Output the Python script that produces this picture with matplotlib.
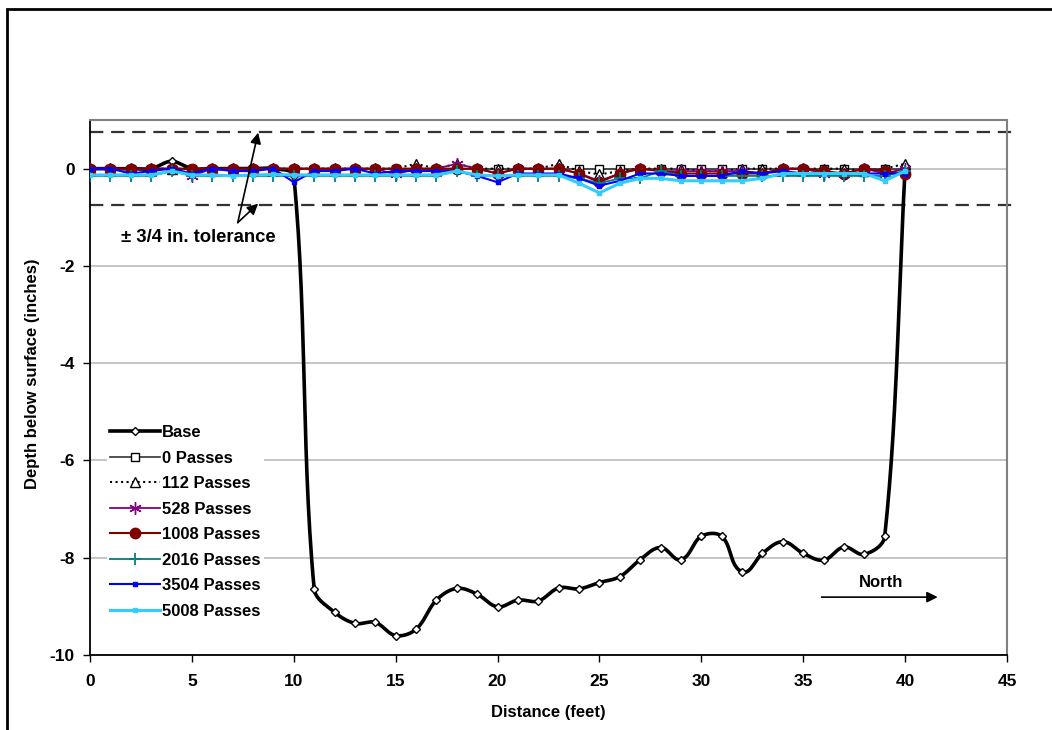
import numpy as np
import matplotlib
matplotlib.use('Agg')
from matplotlib import pyplot as plt
from matplotlib.patches import Rectangle

plt.rcParams['font.family'] = ['Liberation Sans', 'DejaVu Sans']
plt.rcParams['font.weight'] = 'bold'
plt.rcParams['axes.unicode_minus'] = False

distance = list(range(41))

base = [0, 0, 0, 0, 0.15, 0, 0, 0, 0, 0, -0.15,
        -8.64, -9.12, -9.35, -9.33, -9.60, -9.47, -8.87, -8.63, -8.75, -9.01,
        -8.87, -8.89, -8.62, -8.64, -8.51, -8.39, -8.04, -7.79, -8.04, -7.56,
        -7.56, -8.29, -7.91, -7.67, -7.91, -8.05, -7.78, -7.93, -7.56, 0.0]
p0 = [0, 0, 0, 0, 0, 0, 0, 0, 0, 0, 0, 0, 0, 0, 0, 0, 0, 0, 0, 0, 0,
      0, 0, 0, 0, 0, 0, 0, 0, 0, 0, 0, 0, 0, 0, 0, 0, 0, 0, 0, 0]
p112 = [0, 0, 0, 0, 0, 0, 0, 0, 0, 0, 0, 0, 0, 0, 0, 0, 0.1, 0, 0.1, 0, 0,
        0, 0, 0.1, -0.05, -0.12, -0.05, 0, 0, 0, -0.05, -0.05, 0, 0, 0, 0,
        0, 0, -0.05, 0, 0.1]
p528 = [0, 0, 0, 0, 0, -0.15, 0, 0, 0, 0, 0, 0, 0, 0, 0, -0.12, 0, 0, 0.1, 0,
        -0.1, 0, 0, 0, -0.1, -0.25, -0.1, 0, -0.05, -0.05, -0.05, -0.05, -0.05,
        -0.1, 0, 0, -0.1, -0.1, 0, -0.1, 0]
p1008 = [0, 0, 0, 0, 0, 0, 0, 0, 0, 0, 0, 0, 0, 0, 0, 0, 0, 0, 0, 0, -0.1,
         0, 0, 0, -0.1, -0.28, -0.1, 0, -0.05, -0.1, -0.1, -0.1, -0.1, -0.1,
         0, 0, -0.05, -0.1, 0, -0.05, -0.1]
p2016 = [-0.15, -0.15, -0.15, -0.15, -0.05, -0.15, -0.15, -0.15, -0.15, -0.15,
         -0.15, -0.15, -0.15, -0.15, -0.15, -0.15, -0.15, -0.15, -0.05, -0.15,
         -0.15, -0.15, -0.15, -0.15, -0.2, -0.3, -0.2, -0.2, -0.05, -0.15,
         -0.15, -0.15, -0.15, -0.15, -0.15, -0.15, -0.15, -0.15, -0.15, -0.15,
         -0.05]
p3504 = [0, 0, -0.1, -0.05, 0, -0.1, 0, -0.05, -0.05, 0, -0.28, -0.05, -0.05,
         0, -0.1, -0.05, -0.05, -0.05, -0.05, -0.15, -0.28, -0.1, -0.1, -0.1,
         -0.2, -0.35, -0.25, -0.1, -0.1, -0.15, -0.15, -0.15, -0.05, -0.1,
         -0.05, -0.1, -0.1, -0.1, -0.1, -0.1, -0.1]
p5008 = [-0.13, -0.13, -0.13, -0.13, -0.05, -0.13, -0.13, -0.15, -0.13, -0.12,
         -0.13, -0.13, -0.13, -0.13, -0.13, -0.13, -0.13, -0.13, -0.05, -0.13,
         -0.15, -0.13, -0.13, -0.13, -0.3, -0.5, -0.3, -0.2, -0.2, -0.25,
         -0.25, -0.25, -0.25, -0.2, -0.1, -0.1, -0.1, -0.1, -0.1, -0.25, -0.05]

labels = ['Base', '0 Passes', '112 Passes', '528 Passes', '1008 Passes',
          '2016 Passes', '3504 Passes', '5008 Passes']


def smooth(x, y, yscale=2.39, n=30):
    # smoothed line: bezier segments, control arms scaled by chord length
    P = np.column_stack([np.asarray(x, float), np.asarray(y, float) * yscale])
    m = len(P)
    tan = np.zeros_like(P)
    for i in range(m):
        d = P[min(i + 1, m - 1)] - P[max(i - 1, 0)]
        tan[i] = d / np.hypot(*d)
    t = np.linspace(0, 1, n)[:, None]
    out = []
    for i in range(m - 1):
        a, b = P[i], P[i + 1]
        L = np.hypot(*(b - a)) / 3
        c1 = a + tan[i] * L
        c2 = b - tan[i + 1] * L
        out.append((1 - t) ** 3 * a + 3 * (1 - t) ** 2 * t * c1 + 3 * (1 - t) * t ** 2 * c2 + t ** 3 * b)
    out = np.vstack(out)
    return out[:, 0], out[:, 1] / yscale


fs = 12

fig = plt.figure(figsize=(10.52, 7.30), dpi=100)
ax = fig.add_axes([90 / 1052, 1 - 655 / 730, 917 / 1052, 535 / 730])

fig.patches.append(Rectangle((7 / 1052, -0.1), 1.2, 1.1 - 9 / 730, transform=fig.transFigure,
                             fill=False, lw=2, edgecolor='black'))

ax.set_xlim(0, 45)
ax.set_ylim(-10, 1)
ax.set_yticks([-10, -8, -6, -4, -2, 0])
ax.set_xticks(range(0, 46, 5))
ax.grid(axis='y', color='#c0c0c0', lw=1.3)
ax.set_axisbelow(True)

# base: smoothed curve plus markers
sx, sy = smooth(distance, base)
ax.plot(sx, sy, color='black', lw=2.6, zorder=3)
ax.plot(distance, base, ls='none', marker='D', ms=4.5, mfc='white', mec='black', mew=1, zorder=3)
h_base, = ax.plot([], [], color='black', lw=2.6, marker='D', ms=4.5, mfc='white', mec='black', mew=1)

h0, = ax.plot(distance, p0, color='#333333', lw=1.2, marker='s', ms=6, mfc='white', mec='black', mew=1, zorder=3)
h112, = ax.plot(distance, p112, color='black', lw=1.5, ls=':', marker='^', ms=6.5, mfc='white', mec='black', mew=1, zorder=3)
h528, = ax.plot(distance, p528, color='#800080', lw=1.3, marker=(6, 2, 0), ms=9, mec='#800080', mew=1, zorder=3)
h1008, = ax.plot(distance, p1008, color='#800000', lw=1.5, marker='o', ms=7.5, mfc='#800000', mec='#800000', zorder=3)
h2016, = ax.plot(distance, p2016, color='#008080', lw=1.3, marker='+', ms=9, mec='#008080', mew=1.3, zorder=3)
h3504, = ax.plot(distance, p3504, color='#0000ff', lw=1.5, marker='s', ms=3, mfc='#0000ff', mec='#0000ff', zorder=3)
h5008, = ax.plot(distance, p5008, color='#33ccff', lw=2.2, marker='s', ms=3.5, mfc='#33ccff', mec='#33ccff', zorder=3)

# tolerance lines
ax.plot([0, 45.3], [0.75, 0.75], color='#333333', lw=1.6, ls=(0, (6, 3.5)), clip_on=False, zorder=2)
ax.plot([0, 45.3], [-0.75, -0.75], color='#333333', lw=1.6, ls=(0, (6, 3.5)), clip_on=False, zorder=2)

arrow = dict(arrowstyle='-|>', color='black', lw=1.2, mutation_scale=16, shrinkA=0, shrinkB=0)
ax.annotate('', xy=(8.25, 0.74), xytext=(7.25, -1.11), arrowprops=arrow, zorder=4)
ax.annotate('', xy=(8.25, -0.72), xytext=(7.25, -1.11), arrowprops=arrow, zorder=4)
ax.text(5.3, -1.42, '± 3/4 in. tolerance', ha='center', va='center', fontsize=13.3, fontweight='bold')

ax.annotate('', xy=(41.6, -8.81), xytext=(35.9, -8.81), arrowprops=arrow)
ax.text(38.8, -8.5, 'North', ha='center', va='center', fontsize=fs, fontweight='bold')

for s in ['top', 'right']:
    ax.spines[s].set_color('#808080')
    ax.spines[s].set_linewidth(1.5)
for s in ['left', 'bottom']:
    ax.spines[s].set_color('black')
    ax.spines[s].set_linewidth(1.3)

ax.tick_params(direction='out', length=5, width=1, labelsize=fs + 0.5, pad=6)
ax.tick_params(axis='x', pad=9)
for lab in ax.get_xticklabels() + ax.get_yticklabels():
    lab.set_fontweight('bold')

ax.set_xlabel('Distance (feet)', fontsize=fs, fontweight='bold', labelpad=11)
ax.set_ylabel('Depth below surface (inches)', fontsize=fs, fontweight='bold')
ax.yaxis.set_label_coords(-0.0545, 0.525)

leg = ax.legend([h_base, h0, h112, h528, h1008, h2016, h3504, h5008], labels,
                loc='upper left', bbox_to_anchor=(107 / 1052, 1 - 422 / 730),
                bbox_transform=fig.transFigure, frameon=True, framealpha=1,
                edgecolor='none', fontsize=fs, handlelength=3.0, handletextpad=0.1,
                labelspacing=0.63, borderpad=0.2, borderaxespad=0)
for t in leg.get_texts():
    t.set_fontweight('bold')

fig.savefig('out.png', dpi=100)
